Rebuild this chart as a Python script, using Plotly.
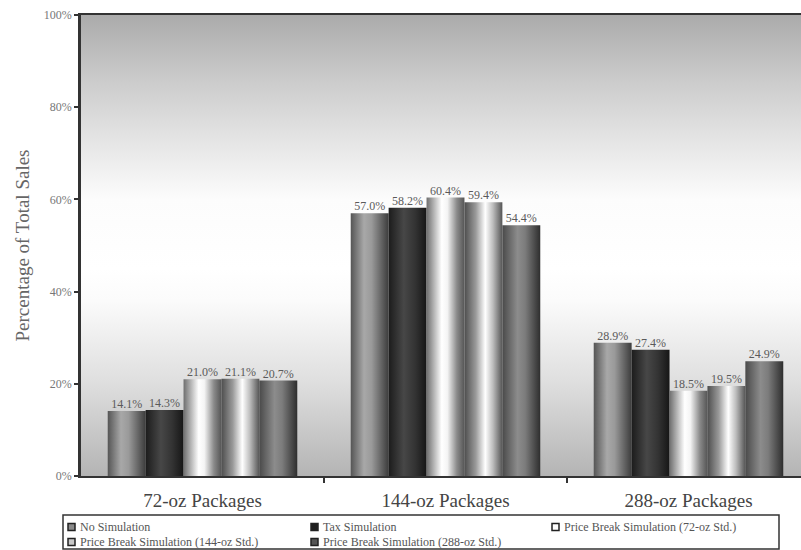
import plotly.graph_objects as go

# Market share of each package size under the alternative pricing scenarios
categories = ["72-oz Packages", "144-oz Packages", "288-oz Packages"]
series_names = [
    "No Simulation",
    "Tax Simulation",
    "Price Break Simulation (72-oz Std.)",
    "Price Break Simulation (144-oz Std.)",
    "Price Break Simulation (288-oz Std.)",
]
no_simulation = [14.1, 57.0, 28.9]
tax_simulation = [14.3, 58.2, 27.4]
price_break_72 = [21.0, 60.4, 18.5]
price_break_144 = [21.1, 59.4, 19.5]
price_break_288 = [20.7, 54.4, 24.9]
series_values = [no_simulation, tax_simulation, price_break_72, price_break_144, price_break_288]
y_ticks = [0, 20, 40, 60, 80, 100]

# Cylinder-style horizontal shading for each series (left edge -> right edge)
shading = [
    [[0, "#555555"], [0.35, "#a8a8a8"], [0.55, "#9a9a9a"], [0.8, "#666666"], [1, "#3c3c3c"]],
    [[0, "#1c1c1c"], [0.4, "#474747"], [0.7, "#333333"], [1, "#161616"]],
    [[0, "#6e6e6e"], [0.4, "#ffffff"], [0.55, "#f4f4f4"], [0.8, "#8a8a8a"], [1, "#555555"]],
    [[0, "#4e4e4e"], [0.3, "#9a9a9a"], [0.55, "#ffffff"], [0.75, "#bdbdbd"], [1, "#555555"]],
    [[0, "#4a4a4a"], [0.4, "#8c8c8c"], [0.6, "#7c7c7c"], [1, "#2e2e2e"]],
]
key_colors = ["#8a8a8a", "#1e1e1e", "#ffffff", "#c8c8c8", "#555555"]

FONT = "Liberation Serif, Times New Roman, serif"
W, H = 801, 550
M_L, M_R, M_T, M_B = 81, 0, 15, 74
bar_w = 0.156
n_series = len(series_values)

fig = go.Figure()

# Plot-area backdrop with vertical grey-white-grey shading
fig.add_trace(go.Scatter(
    x=[-0.5, 2.5, 2.5, -0.5, -0.5], y=[0, 0, 100, 100, 0],
    mode="lines", line=dict(width=0), fill="toself",
    fillgradient=dict(type="vertical", colorscale=[
        [0, "#b4b4b4"], [0.2, "#dedede"], [0.38, "#fbfbfb"], [0.45, "#ffffff"],
        [0.6, "#fcfcfc"], [0.72, "#e6e6e6"], [0.85, "#cdcdcd"], [1, "#ababab"]]),
    hoverinfo="skip",
))

# Bars: one filled shape per bar so each gets its own shading span
for j, (name, vals) in enumerate(zip(series_names, series_values)):
    for i, v in enumerate(vals):
        x0 = i - n_series / 2 * bar_w + j * bar_w
        x1 = x0 + bar_w
        fig.add_trace(go.Scatter(
            x=[x0, x0, x1, x1, x0], y=[0, v, v, 0, 0],
            mode="lines", line=dict(width=0, color=key_colors[j]),
            fill="toself", fillcolor=key_colors[j],
            fillgradient=dict(type="horizontal", colorscale=shading[j]),
            name=name,
            hovertemplate=f"{name}<br>{categories[i]}: {v:.1f}%<extra></extra>",
        ))

# Value labels above the bars
for j, vals in enumerate(series_values):
    fig.add_trace(go.Scatter(
        x=[i - n_series / 2 * bar_w + (j + 0.5) * bar_w for i in range(len(vals))],
        y=vals, mode="text", text=[f"{v:.1f}%" for v in vals],
        textposition="top center",
        textfont=dict(family=FONT, size=12, color="#5a5a5a"),
        hoverinfo="skip",
    ))


# Boxed key below the axis, laid out in pixel units of the page
def px_x(px):
    return (px - M_L) / (W - M_L - M_R)


def px_y(py):
    return (H - M_B - py) / (H - M_T - M_B)


shapes = [dict(type="rect", xref="paper", yref="paper",
               x0=px_x(63), x1=px_x(779), y0=px_y(515), y1=px_y(549),
               line=dict(color="#333333", width=1.5), fillcolor="white")]
annotations = []
key_cols = [68, 311, 552]
key_rows = [527, 542]
for j, name in enumerate(series_names):
    cx = key_cols[j % 3]
    cy = key_rows[j // 3]
    shapes.append(dict(type="rect", xref="paper", yref="paper",
                       x0=px_x(cx), x1=px_x(cx + 7), y0=px_y(cy + 3.5), y1=px_y(cy - 3.5),
                       line=dict(color="#222222", width=1.5), fillcolor=key_colors[j]))
    annotations.append(dict(text=name, xref="paper", yref="paper",
                            x=px_x(cx + 10), y=px_y(cy), xanchor="left", yanchor="middle",
                            showarrow=False,
                            font=dict(family=FONT, size=12, color="#555555")))

fig.update_layout(
    width=W, height=H,
    margin=dict(l=M_L, r=M_R, t=M_T, b=M_B),
    paper_bgcolor="white", plot_bgcolor="white",
    showlegend=False,
    font=dict(family=FONT, color="#555555"),
    shapes=shapes, annotations=annotations,
    xaxis=dict(
        range=[-0.5, 2.463], tickvals=[0, 1, 2], ticktext=categories,
        ticks="", tickfont=dict(family=FONT, size=19, color="#444444"),
        ticklabelstandoff=6,
        showgrid=False, zeroline=False,
        showline=True, linecolor="#333333", linewidth=2, mirror=True,
        minor=dict(tickvals=[0.5, 1.5], ticks="outside", ticklen=5,
                   tickcolor="#333333", tickwidth=1.5),
    ),
    yaxis=dict(
        range=[0, 100], tickvals=y_ticks, ticktext=[f"{t}%" for t in y_ticks],
        ticks="outside", ticklen=4, tickcolor="#333333", tickwidth=1.5,
        tickfont=dict(family=FONT, size=12, color="#777777"),
        showgrid=False, zeroline=False,
        showline=True, linecolor="#333333", linewidth=2.5,
        title=dict(text="Percentage of Total Sales",
                   font=dict(family=FONT, size=19, color="#666666"), standoff=10),
    ),
)

fig.write_html("out.html")
